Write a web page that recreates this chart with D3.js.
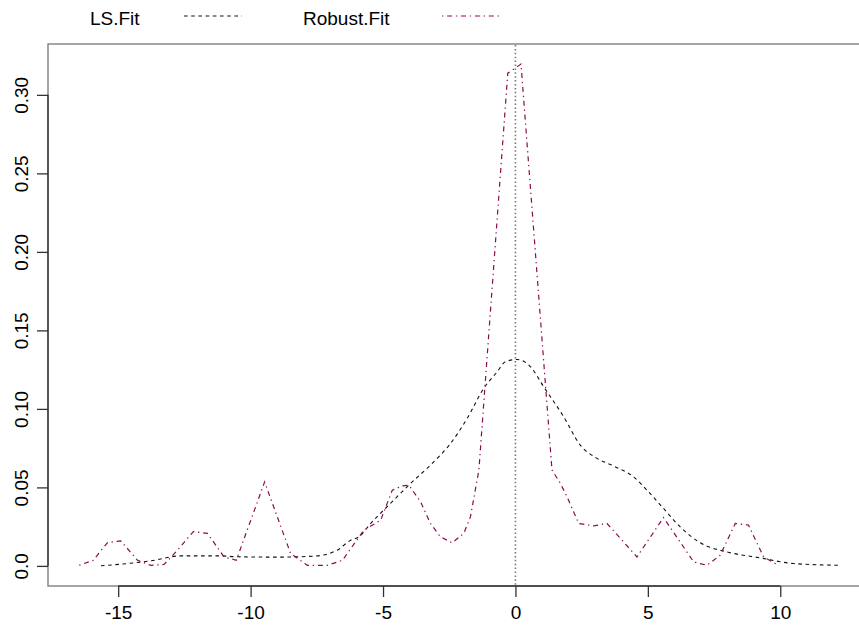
<!DOCTYPE html>
<html>
<head>
<meta charset="utf-8">
<script src="https://cdn.jsdelivr.net/npm/d3@7"></script>
<style>
  body { margin: 0; background: #fff; }
  svg { display: block; font-family: "Liberation Sans", Arial, sans-serif; }
</style>
</head>
<body>
<svg id="chart"></svg>
<script>
// LS fit density (black dashed)
var lsX = [-15.65,-14.65,-13.77,-12.64,-11.13,-10.5,-9.0,-7.61,-6.73,-6.22,-5.91,-5.47,-4.72,-3.96,-3.21,-2.45,-1.82,-1.20,-0.69,-0.38,0.06,0.57,1.07,1.82,2.45,3.08,3.71,4.46,4.97,5.59,6.22,6.98,7.99,9.24,10.5,12.2];
var lsY = [0.0001,0.0015,0.0032,0.0064,0.0064,0.0058,0.0056,0.0062,0.0100,0.0164,0.0185,0.0270,0.0398,0.0525,0.0642,0.0780,0.0940,0.1130,0.1236,0.1300,0.1315,0.1268,0.1140,0.0950,0.0769,0.0685,0.0636,0.0567,0.0482,0.0366,0.0249,0.0147,0.0089,0.0051,0.0015,0.0004];

// Robust fit density (maroon dot-dash)
var robustX = [-16.47,-15.94,-15.40,-14.90,-14.27,-13.77,-13.27,-12.76,-12.16,-11.63,-11.00,-10.54,-9.47,-8.49,-7.86,-7.10,-6.53,-5.72,-5.09,-4.65,-4.27,-4.02,-3.58,-3.21,-2.83,-2.39,-1.95,-1.70,-1.38,-0.29,0.21,1.38,1.70,1.95,2.39,2.95,3.46,4.59,5.59,6.73,7.23,7.73,8.30,8.80,9.37,9.93];
var robustY = [0.0004,0.0036,0.0149,0.0159,0.0036,0.0004,0.0009,0.0100,0.0219,0.0207,0.0057,0.0036,0.0535,0.0079,0.0004,0.0004,0.0036,0.0228,0.0291,0.0482,0.0510,0.0514,0.0408,0.0270,0.0185,0.0147,0.0207,0.0312,0.0610,0.3138,0.3196,0.0610,0.0525,0.0440,0.0270,0.0255,0.0270,0.0057,0.0308,0.0025,0.0004,0.0068,0.0270,0.0260,0.0057,0.0004];

var xTicks = [-15, -10, -5, 0, 5, 10];
var yTicks = [0, 0.05, 0.10, 0.15, 0.20, 0.25, 0.30];
var yTickLabels = ["0.0", "0.05", "0.10", "0.15", "0.20", "0.25", "0.30"];
var seriesNames = ["LS.Fit", "Robust.Fit"];
var xDomain = [-17.65, 13.35];
var yDomain = [-0.0128, 0.3324];

var width = 859, height = 629;
// plot box edges (right edge falls outside the picture, as in the original)
var boxL = 48, boxT = 44, boxR = 869, boxB = 586;

var svg = d3.select("svg#chart")
  .attr("width", width)
  .attr("height", height);

var x = d3.scaleLinear().domain(xDomain).range([boxL, boxR]);
var y = d3.scaleLinear().domain(yDomain).range([boxB, boxT]);

// plot box
svg.append("rect")
  .attr("x", boxL).attr("y", boxT)
  .attr("width", boxR - boxL).attr("height", boxB - boxT)
  .attr("fill", "none")
  .attr("stroke", "#7f7f7f")
  .attr("stroke-width", 1.4);

// x axis
var xAxis = d3.axisBottom(x).tickValues(xTicks).tickSize(11).tickPadding(9)
  .tickFormat(function(d) { return String(d); });
var gx = svg.append("g").attr("transform", translate(0, boxB)).call(xAxis);
gx.select(".domain").remove();
gx.append("line")
  .attr("x1", x(xTicks[0])).attr("x2", x(xTicks[xTicks.length - 1]))
  .attr("stroke", "#333").attr("stroke-width", 1.4);

// y axis
var yAxis = d3.axisLeft(y).tickValues(yTicks).tickSize(11)
  .tickFormat(function(d, i) { return yTickLabels[i]; });
var gy = svg.append("g").attr("transform", translate(boxL, 0)).call(yAxis);
gy.select(".domain").remove();
gy.append("line")
  .attr("y1", y(yTicks[0])).attr("y2", y(yTicks[yTicks.length - 1]))
  .attr("stroke", "#333").attr("stroke-width", 1.4);

svg.selectAll(".tick line").attr("stroke", "#333").attr("stroke-width", 1.3);
svg.selectAll(".tick text")
  .attr("fill", "#000")
  .style("font-size", "19px")
  .style("font-family", "Liberation Sans, Arial, sans-serif");

// y labels read bottom to top, like R
gy.selectAll(".tick text")
  .attr("x", null).attr("dy", null)
  .attr("text-anchor", "middle")
  .attr("transform", "translate(-20,0) rotate(-90)");

// vertical dotted line at 0
svg.append("line")
  .attr("x1", x(0)).attr("x2", x(0))
  .attr("y1", boxT + 1).attr("y2", boxB)
  .attr("stroke", "#777")
  .attr("stroke-width", 1.6)
  .attr("stroke-dasharray", "1.5,2.4");

var lsLine = d3.line()
  .x(function(d) { return x(d[0]); })
  .y(function(d) { return y(d[1]); })
  .curve(d3.curveMonotoneX);

var robustLine = d3.line()
  .x(function(d) { return x(d[0]); })
  .y(function(d) { return y(d[1]); });

svg.append("path")
  .datum(d3.zip(lsX, lsY))
  .attr("d", lsLine)
  .attr("fill", "none")
  .attr("stroke", "#111")
  .attr("stroke-width", 1.1)
  .attr("stroke-dasharray", "3.6,3.6");

svg.append("path")
  .datum(d3.zip(robustX, robustY))
  .attr("d", robustLine)
  .attr("fill", "none")
  .attr("stroke", "#8b0a50")
  .attr("stroke-width", 1.2)
  .attr("stroke-dasharray", "1.3,3.8,5,3.8");

// legend across the top
var legend = svg.append("g").attr("id", "legend");
var legendItems = [
  {name: seriesNames[0], tx: 90, lx: [184, 242], stroke: "#111", dash: "3.6,3.6"},
  {name: seriesNames[1], tx: 303, lx: [442, 500], stroke: "#8b0a50", dash: "1.3,3.8,5,3.8"}
];
legendItems.forEach(function(it) {
  legend.append("text")
    .attr("x", it.tx).attr("y", 25)
    .style("font-size", "19px")
    .text(it.name);
  legend.append("line")
    .attr("x1", it.lx[0]).attr("x2", it.lx[1])
    .attr("y1", 16).attr("y2", 16)
    .attr("stroke", it.stroke)
    .attr("stroke-width", 1.1)
    .attr("stroke-dasharray", it.dash);
});

function translate(a, b) {
  return 'translate(' + String(a) + ',' + String(b) + ')';
}
</script>
</body>
</html>
